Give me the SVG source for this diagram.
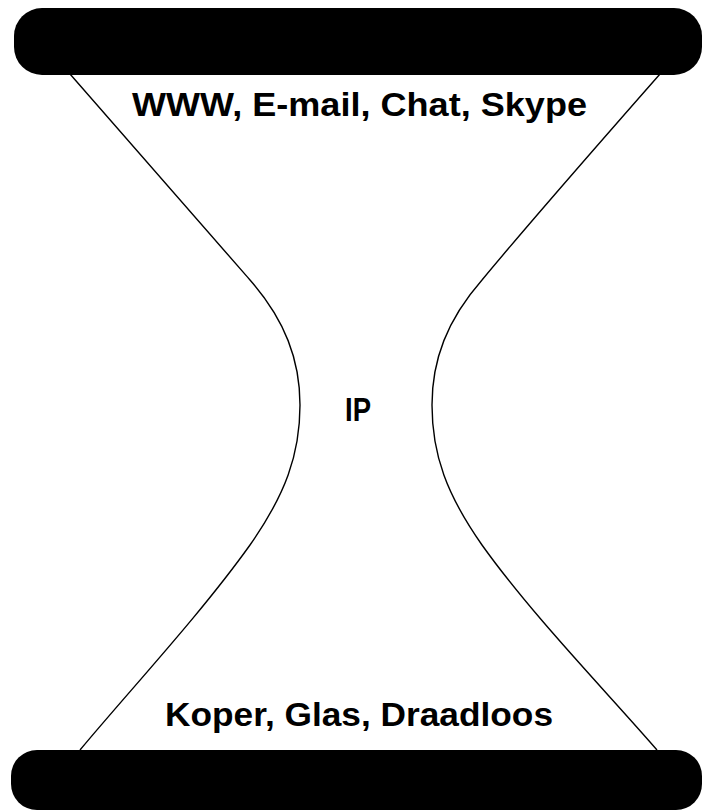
<svg xmlns="http://www.w3.org/2000/svg" width="704" height="811" viewBox="0 0 704 811">
<style>
.bar{fill:#000}
.curve{fill:none;stroke:#000;stroke-width:1.4}
.lbl{font-family:"Liberation Sans",Arial,sans-serif;font-weight:bold;font-size:33px;fill:#000}
</style>
<rect width="704" height="811" fill="#fff"/>
<g id="top-bar"><rect class="bar" x="14" y="8" width="688" height="67" rx="28" ry="28"/></g>
<g id="bottom-bar"><rect class="bar" x="11" y="750" width="691" height="60" rx="26" ry="26"/></g>
<g id="connectors">
<path class="curve" d="M70,74 C150,165 200,222 250,280 C285,320 300,360 300,405 C300,455 285,495 250,545 C200,615 130,690 80,750"/>
<path class="curve" d="M660,74 C580,165 530,222 482,280 C447,320 432,360 432,405 C432,455 447,495 482,545 C532,615 605,690 657,750"/>
</g>
<g id="label-top"><text class="lbl" x="132" y="116" textLength="455" lengthAdjust="spacingAndGlyphs">WWW, E-mail, Chat, Skype</text></g>
<g id="label-ip"><text class="lbl" x="345" y="421" textLength="26" lengthAdjust="spacingAndGlyphs">IP</text></g>
<g id="label-bottom"><text class="lbl" x="165" y="726" textLength="388" lengthAdjust="spacingAndGlyphs">Koper, Glas, Draadloos</text></g>
</svg>
